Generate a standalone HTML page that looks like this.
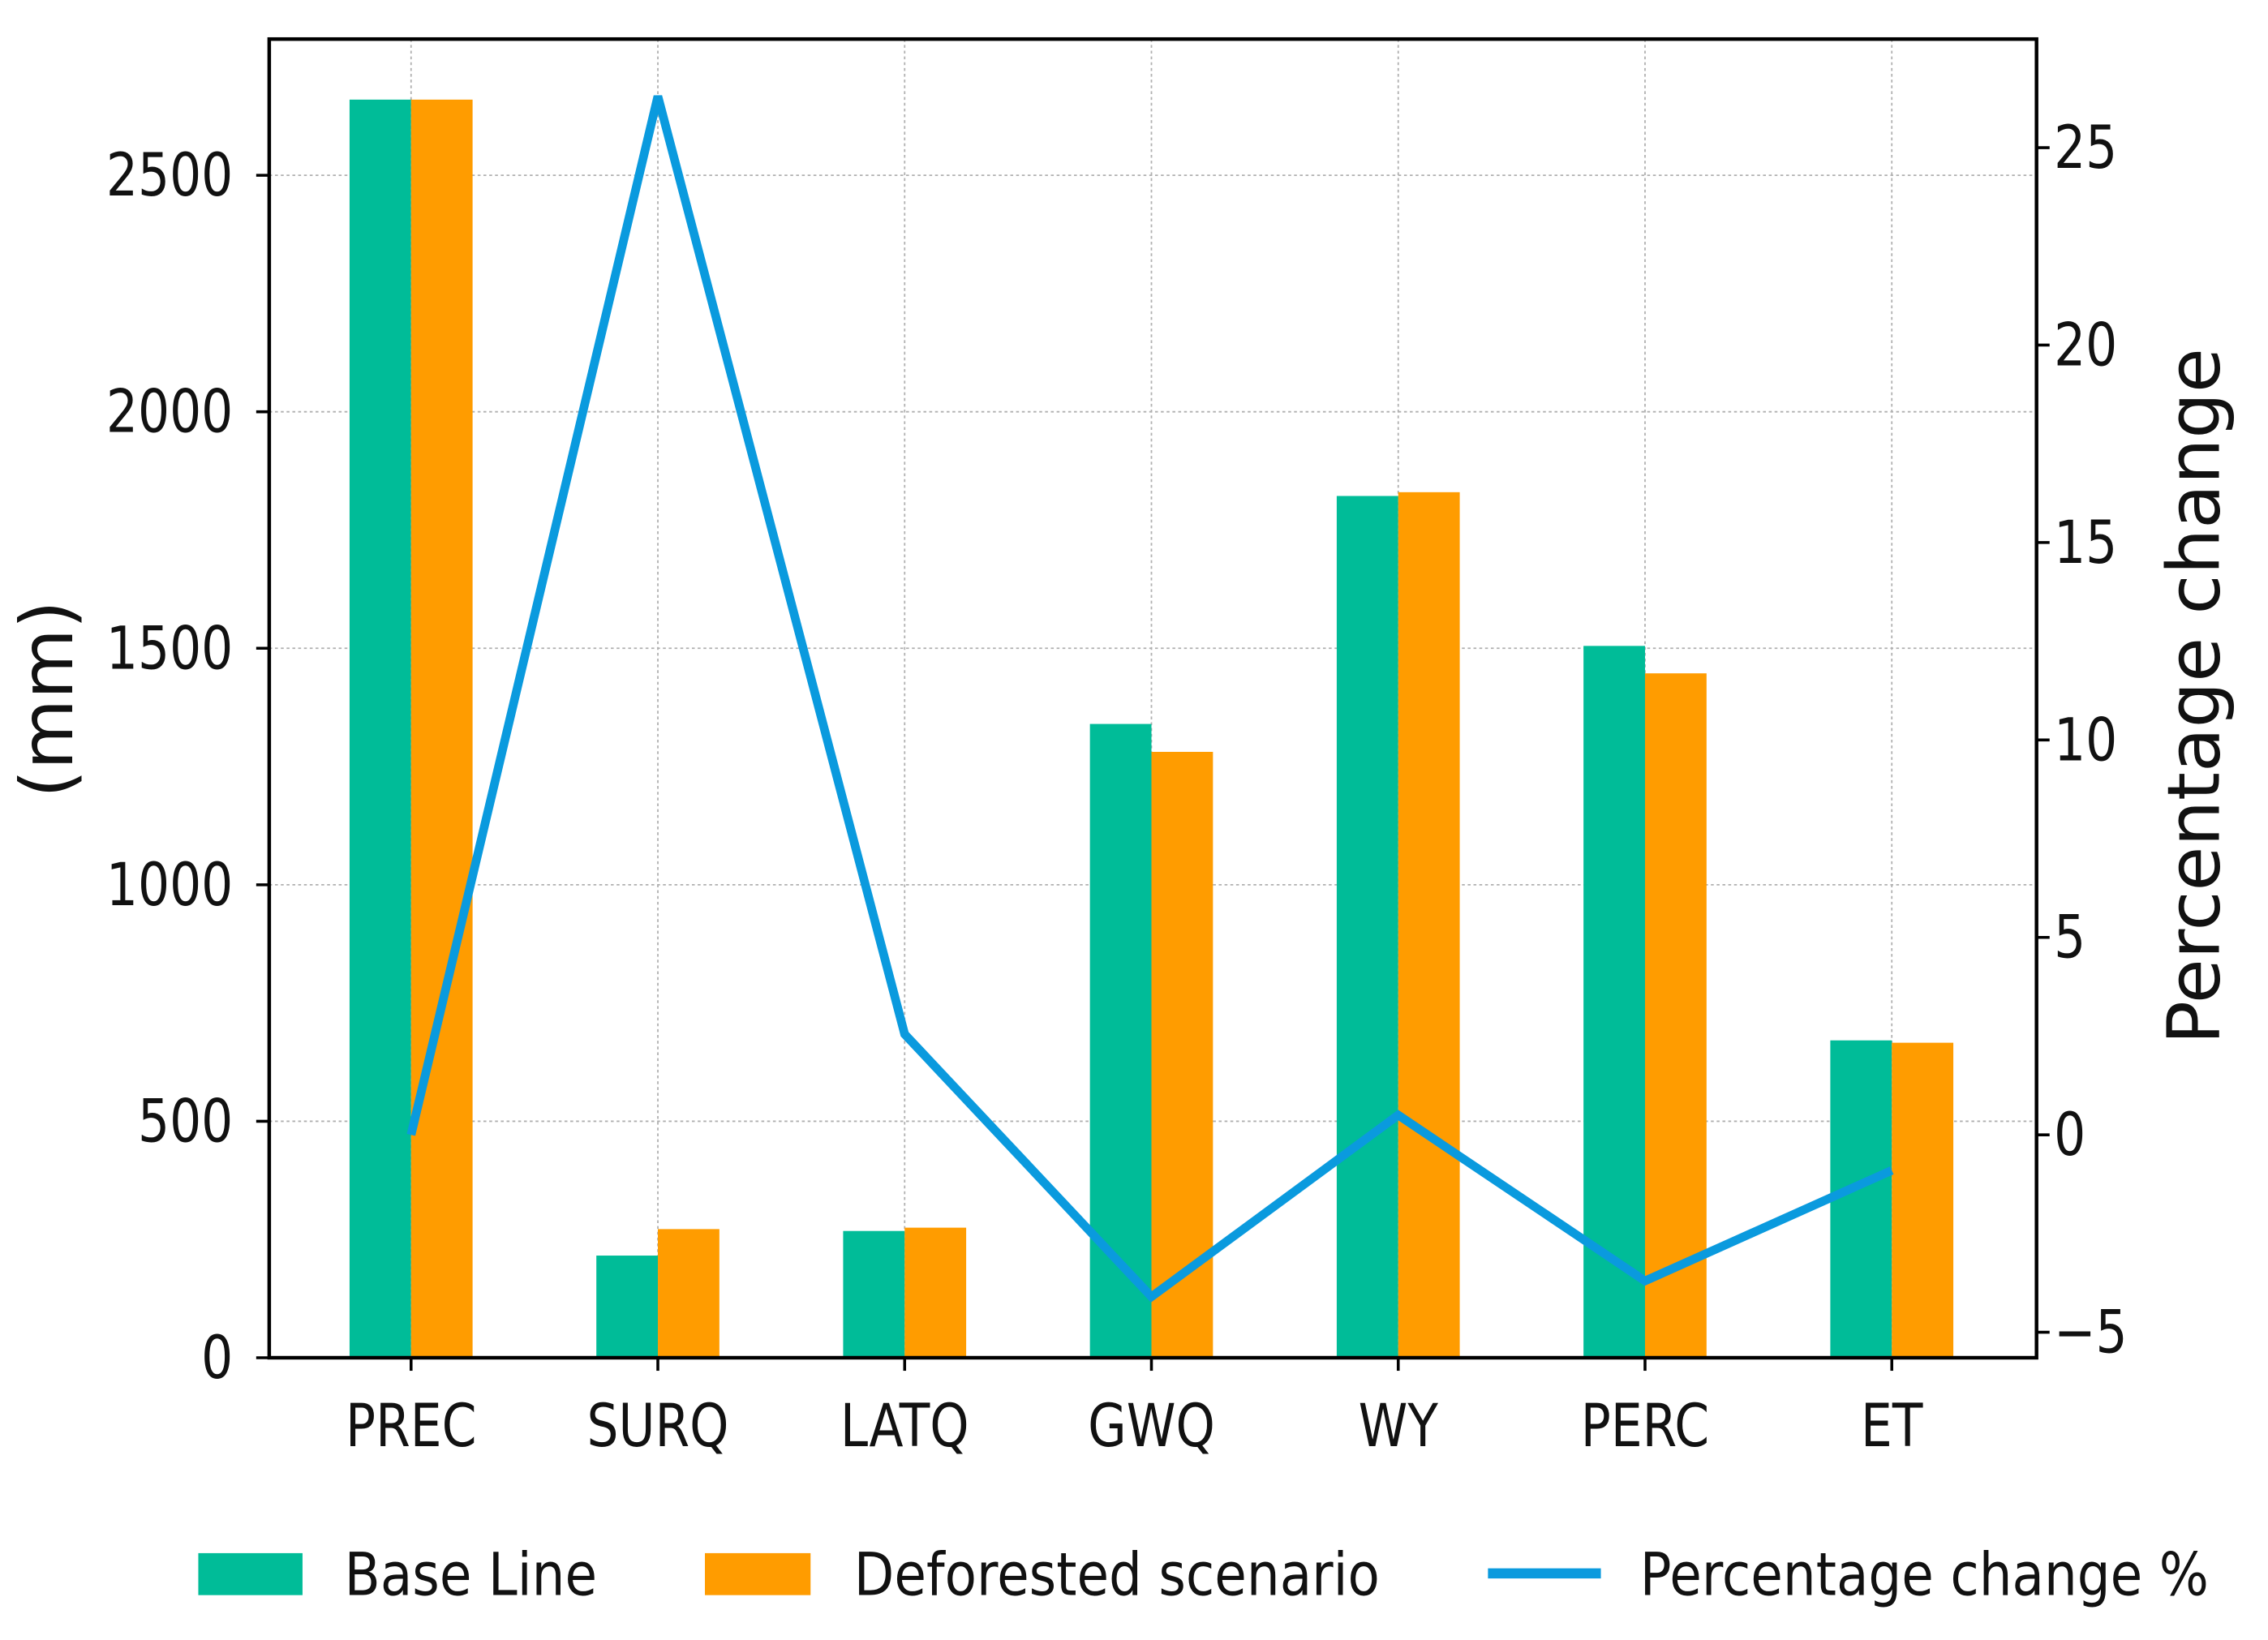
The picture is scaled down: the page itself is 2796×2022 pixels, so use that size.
<!DOCTYPE html>
<html><head><meta charset="utf-8"><style>
html,body{margin:0;padding:0;background:#fff;}
svg{display:block;}
text{font-family:"DejaVu Sans","Liberation Sans",sans-serif;fill:#111;}
</style></head><body>
<svg id="chart" width="2796" height="2022" viewBox="0 0 1566.9 1133" preserveAspectRatio="none" xmlns="http://www.w3.org/2000/svg"></svg>
<script>
const categories=["PREC","SURQ","LATQ","GWQ","WY","PERC","ET"];
const baseLine=[2660,216,268,1340,1822,1505,671];
const deforested=[2660,272,275,1281,1830,1447,666];
const pctChange=[0,26.3,2.55,-4.1,0.5,-3.7,-0.9];
const leftTicks=[0,500,1000,1500,2000,2500];
const rightTicks=[-5,0,5,10,15,20,25];

const svg=document.getElementById('chart');
const NS="http://www.w3.org/2000/svg";
const L=186,R=1407,T=27,B=938;
const yL=v=>B-(v-0)*(B-T)/2788;
const yR=v=>784-v*27.28;
const xC=i=>284+i*170.5;
const bw=42.5;
function mk(tag,attrs,parent){const e=document.createElementNS(NS,tag);for(const k in attrs)e.setAttribute(k,attrs[k]);(parent||svg).appendChild(e);return e;}

leftTicks.forEach(v=>{const g=mk('line',{x1:L,x2:R,y1:yL(v),y2:yL(v),stroke:'#b0b0b0','stroke-width':1,'stroke-dasharray':'2,2'});

});
categories.forEach((c,i)=>{const g=mk('line',{x1:xC(i),x2:xC(i),y1:T,y2:B,stroke:'#b0b0b0','stroke-width':1,'stroke-dasharray':'2,2'});

});

categories.forEach((c,i)=>{
 const b=mk('rect',{x:xC(i)-bw,y:yL(baseLine[i]),width:bw,height:B-yL(baseLine[i]),fill:'#00bc98'});
 
 
 const d=mk('rect',{x:xC(i),y:yL(deforested[i]),width:bw,height:B-yL(deforested[i]),fill:'#ff9c00'});
 
 
});

const pts=pctChange.map((v,i)=>xC(i)+','+yR(v)).join(' ');
const pl=mk('polyline',{points:pts,fill:'none',stroke:'#0a9ade','stroke-width':6,'stroke-linejoin':'miter'});



const fr=mk('rect',{x:L,y:T,width:R-L,height:B-T,fill:'none',stroke:'#000','stroke-width':2.5});



leftTicks.forEach(v=>{
 mk('line',{x1:L-9,x2:L,y1:yL(v),y2:yL(v),stroke:'#000','stroke-width':2});
 const x=L-25;
 const t=mk('text',{x:x,y:yL(v)+14,'text-anchor':'end','font-size':41,transform:`translate(${x},0) scale(0.84,1) translate(${-x},0)`});
 t.textContent=v;
 
 
});
rightTicks.forEach(v=>{
 mk('line',{x1:R,x2:R+9,y1:yR(v),y2:yR(v),stroke:'#000','stroke-width':2});
 const x=R+12;
 const t=mk('text',{x:x,y:yR(v)+14,'font-size':41,transform:`translate(${x},0) scale(0.84,1) translate(${-x},0)`});
 t.textContent=(v<0?'\u2212'+(-v):v);
 
 
});
categories.forEach((c,i)=>{
 mk('line',{x1:xC(i),x2:xC(i),y1:B,y2:B+9,stroke:'#000','stroke-width':2});
 const t=mk('text',{x:xC(i),y:B+61,'text-anchor':'middle','font-size':41,transform:`translate(${xC(i)},0) scale(0.84,1) translate(${-xC(i)},0)`});
 t.textContent=c;
 
 
});
</script>
<svg style="position:absolute;left:0;top:0" width="2796" height="2022" viewBox="0 0 1566.9 1133" preserveAspectRatio="none" xmlns="http://www.w3.org/2000/svg">
<text x="0" y="0" font-size="50" text-anchor="middle" transform="translate(50,483) rotate(-90)" style="font-family:'DejaVu Sans',sans-serif">(mm)</text>
<text x="0" y="0" font-size="50" text-anchor="middle" transform="translate(1533,481) rotate(-90)" style="font-family:'DejaVu Sans',sans-serif">Percentage change</text>
<g>
<rect x="137" y="1073" width="72" height="29" fill="#00bc98"/>
<text x="238" y="1102" font-size="41" transform="translate(238,0) scale(0.88,1) translate(-238,0)" style="font-family:'DejaVu Sans',sans-serif">Base Line</text>
<rect x="487" y="1073" width="73" height="29" fill="#ff9c00"/>
<text x="590" y="1102" font-size="41" transform="translate(590,0) scale(0.88,1) translate(-590,0)" style="font-family:'DejaVu Sans',sans-serif">Deforested scenario</text>
<line x1="1028" x2="1106" y1="1087" y2="1087" stroke="#0a9ade" stroke-width="7"/>
<text x="1133" y="1102" font-size="41" transform="translate(1133,0) scale(0.88,1) translate(-1133,0)" style="font-family:'DejaVu Sans',sans-serif">Percentage change %</text>
</g>
</svg>
</body></html>
